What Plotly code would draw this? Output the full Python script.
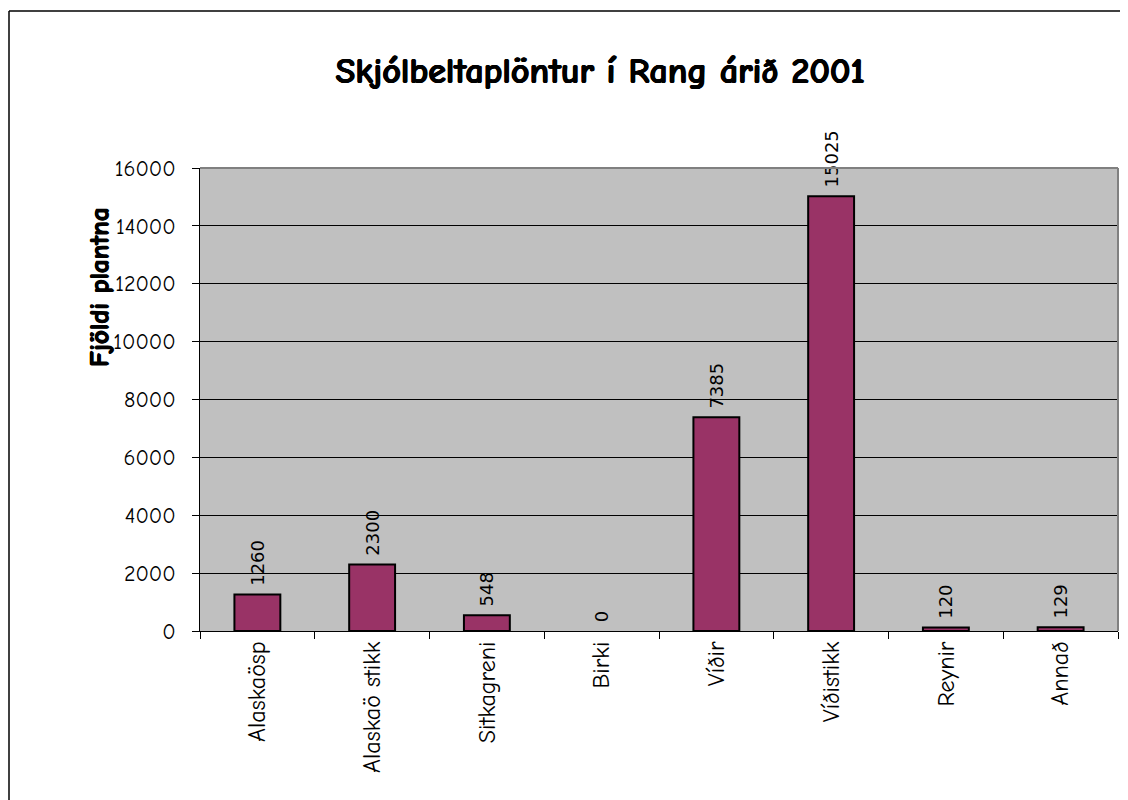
import plotly.graph_objects as go

categories = ["Alaskaösp", "Alaskaö stikk", "Sitkagreni", "Birki", "Víðir", "Víðistikk", "Reynir", "Annað"]
values = [1260, 2300, 548, 0, 7385, 15025, 120, 129]
y_ticks = [0, 2000, 4000, 6000, 8000, 10000, 12000, 14000, 16000]

FONT = "Comic Sans MS, Comic Neue, Open Sans, DejaVu Sans, sans-serif"
LABEL_FONT = "DejaVu Sans, Verdana, sans-serif"
FAKE_BOLD = "0.8px 0px 0px black, -0.4px 0px 0px black, 0px 0.5px 0px black"
OFF = 8  # page offset of the figure inside the browser window
W, H = 1128, 800
L, R, T, B = 200 - OFF, 1118 - OFF, 168 - OFF, 631 - OFF

def px(x):
    return (x - OFF - L) / (R - L)

def py(y):
    return (B - (y - OFF)) / (B - T)

fig = go.Figure(go.Bar(
    x=categories, y=values,
    marker=dict(color="#993366",
                line=dict(color="black", width=[2 if v > 0 else 0 for v in values])),
    width=0.4,
    text=["\u00a0" + str(v) for v in values],
    textposition="outside",
    textangle=-90,
    constraintext="none",
    textfont=dict(family=LABEL_FONT, size=18, color="black"),
    cliponaxis=False,
))

fig.update_layout(
    width=W, height=H,
    margin=dict(l=L, r=W - R, t=T, b=H - B, pad=0),
    paper_bgcolor="white",
    plot_bgcolor="#C0C0C0",
    showlegend=False,
    font=dict(family=FONT, color="black"),
    title=dict(text="<b>Skjólbeltaplöntur í Rang árið 2001</b>",
               x=(600 - OFF) / W, xanchor="center", y=1 - (70 - OFF) / H, yanchor="middle",
               font=dict(size=36, family=FONT, color="black", weight=700, shadow=FAKE_BOLD)),
    xaxis=dict(showline=True, linecolor="black", linewidth=1,
               ticks="outside", tickson="boundaries", ticklen=7, tickcolor="black",
               tickangle=-90, tickfont=dict(size=24, family=FONT),
               showgrid=False, mirror=False),
    yaxis=dict(range=[0, 16000], tickvals=y_ticks, tickformat="d", showline=True,
               linecolor="black", linewidth=1, ticks="outside", ticklen=7, tickcolor="black",
               ticklabelstandoff=12,
               showgrid=True, gridcolor="black", gridwidth=1,
               tickfont=dict(size=22, family=FONT), zeroline=False),
    bargap=0.6,
)

# plot area border (top/right grey)
fig.add_shape(type="line", xref="paper", yref="paper", x0=0, x1=1, y0=1, y1=1,
              line=dict(color="#808080", width=2))
fig.add_shape(type="line", xref="paper", yref="paper", x0=1, x1=1, y0=0, y1=1,
              line=dict(color="#808080", width=2))

# outer chart frame
fig.add_shape(type="line", xref="paper", yref="paper", x0=px(9), x1=px(1140),
              y0=py(11), y1=py(11), line=dict(color="black", width=1.5))
fig.add_shape(type="line", xref="paper", yref="paper", x0=px(9), x1=px(9),
              y0=py(11), y1=py(810), line=dict(color="black", width=1.5))

fig.add_annotation(text="<b>Fjöldi plantna</b>", xref="paper", yref="paper",
                   x=px(99), y=py(288), xanchor="center", yanchor="middle",
                   showarrow=False, textangle=-90,
                   font=dict(size=27, family=FONT, color="black", weight=700, shadow=FAKE_BOLD))

fig.write_html("out.html")
